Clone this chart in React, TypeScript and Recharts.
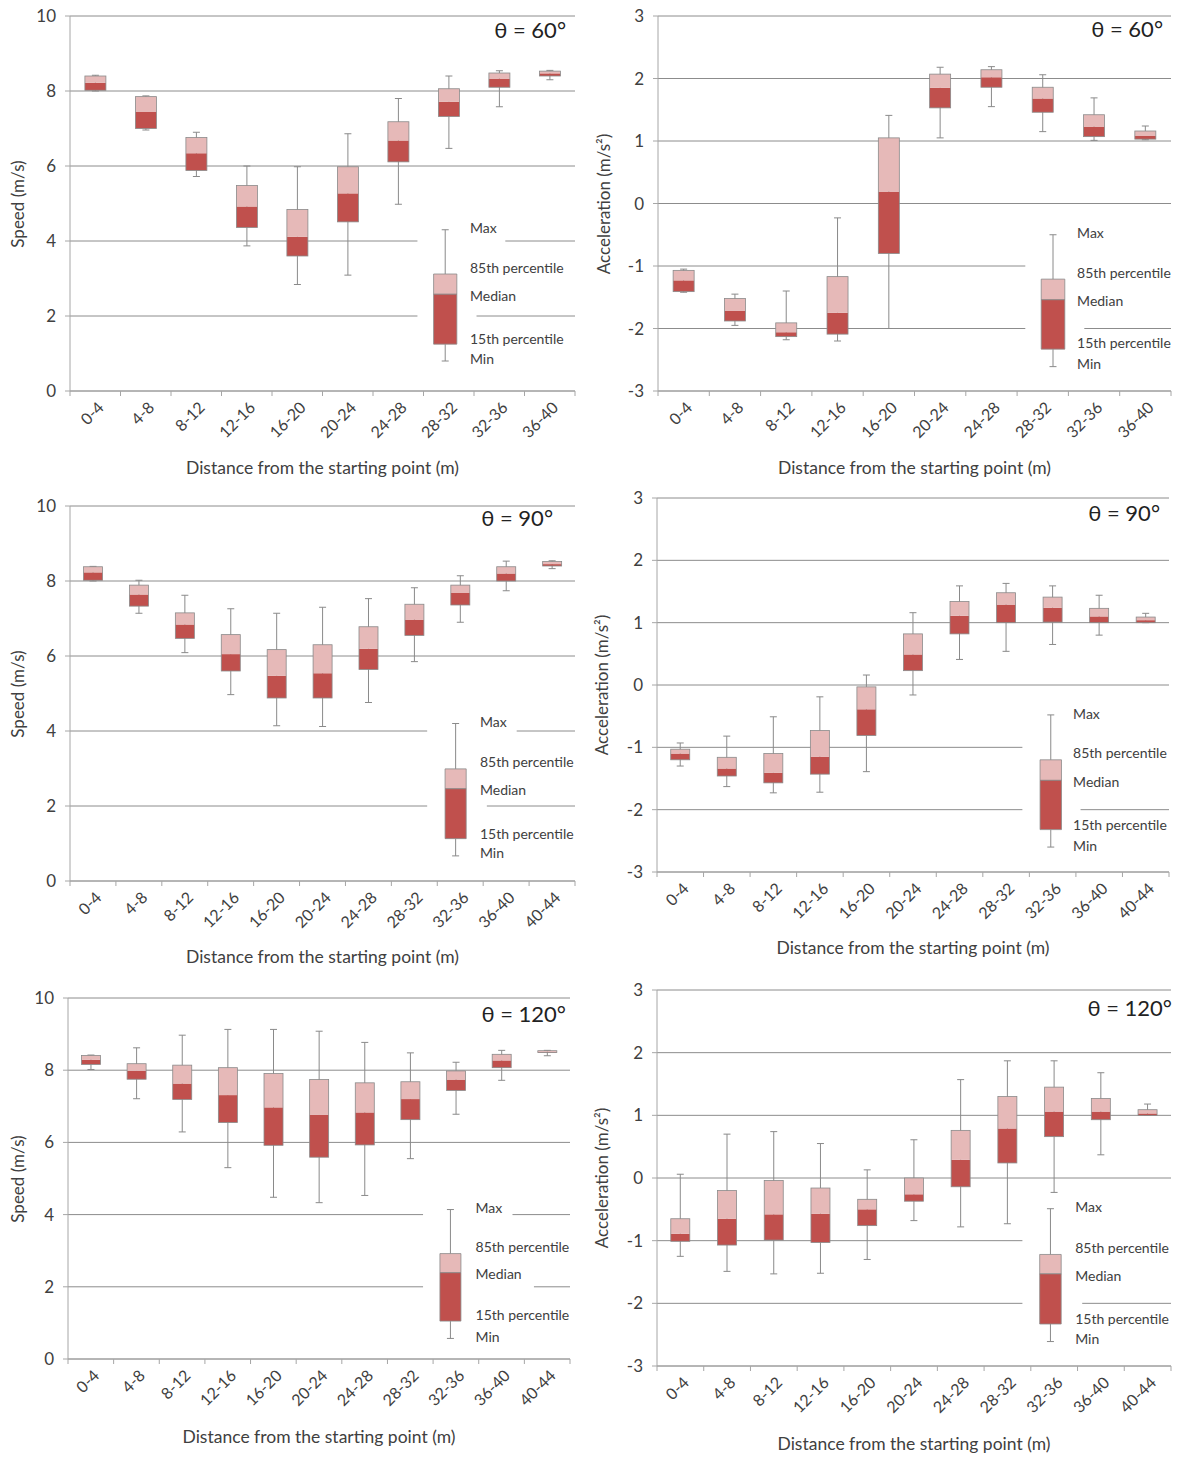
import {
  ComposedChart,
  Bar,
  XAxis,
  YAxis,
  CartesianGrid,
  ReferenceLine,
  ReferenceArea,
  ReferenceDot,
} from "recharts";

// distance bins (m)
const binsTo40 = ["0-4", "4-8", "8-12", "12-16", "16-20", "20-24", "24-28", "28-32", "32-36", "36-40"];
const binsTo44 = [...binsTo40, "40-44"];

// speed, θ = 60°
const speed60Max = [8.42, 7.87, 6.9, 6.0, 5.98, 6.86, 7.8, 8.4, 8.54, 8.55];
const speed60P85 = [8.4, 7.85, 6.76, 5.48, 4.84, 5.98, 7.18, 8.06, 8.48, 8.53];
const speed60Median = [8.22, 7.44, 6.34, 4.92, 4.11, 5.27, 6.68, 7.71, 8.33, 8.47];
const speed60P15 = [8.02, 7.0, 5.88, 4.36, 3.6, 4.51, 6.11, 7.32, 8.1, 8.4];
const speed60Min = [8.0, 6.96, 5.72, 3.87, 2.84, 3.09, 4.98, 6.47, 7.58, 8.3];

// acceleration, θ = 60°
const accel60Max = [-1.05, -1.45, -1.4, -0.23, 1.41, 2.18, 2.19, 2.06, 1.69, 1.24];
const accel60P85 = [-1.07, -1.52, -1.91, -1.17, 1.05, 2.07, 2.14, 1.86, 1.42, 1.16];
const accel60Median = [-1.23, -1.72, -2.06, -1.75, 0.19, 1.85, 2.02, 1.68, 1.23, 1.08];
const accel60P15 = [-1.41, -1.88, -2.13, -2.09, -0.8, 1.53, 1.86, 1.46, 1.07, 1.03];
const accel60Min = [-1.42, -1.95, -2.18, -2.2, -2.0, 1.05, 1.55, 1.15, 1.01, 1.02];

// speed, θ = 90°
const speed90Max = [8.39, 8.02, 7.62, 7.26, 7.14, 7.3, 7.53, 7.82, 8.14, 8.53, 8.54];
const speed90P85 = [8.38, 7.89, 7.15, 6.57, 6.17, 6.3, 6.78, 7.38, 7.89, 8.38, 8.52];
const speed90Median = [8.23, 7.64, 6.84, 6.05, 5.47, 5.54, 6.19, 6.97, 7.68, 8.2, 8.45];
const speed90P15 = [8.02, 7.33, 6.47, 5.6, 4.88, 4.88, 5.64, 6.55, 7.36, 8.0, 8.4];
const speed90Min = [8.0, 7.14, 6.09, 4.97, 4.14, 4.12, 4.76, 5.85, 6.9, 7.74, 8.33];

// acceleration, θ = 90°
const accel90Max = [-0.93, -0.82, -0.51, -0.19, 0.16, 1.16, 1.59, 1.63, 1.59, 1.44, 1.15];
const accel90P85 = [-1.03, -1.16, -1.1, -0.73, -0.03, 0.82, 1.34, 1.48, 1.41, 1.23, 1.09];
const accel90Median = [-1.1, -1.34, -1.41, -1.15, -0.39, 0.49, 1.11, 1.29, 1.24, 1.1, 1.04];
const accel90P15 = [-1.2, -1.46, -1.57, -1.43, -0.81, 0.23, 0.82, 1.0, 1.01, 1.0, 1.0];
const accel90Min = [-1.3, -1.63, -1.73, -1.72, -1.39, -0.16, 0.41, 0.54, 0.65, 0.8, 1.0];

// speed, θ = 120°
const speed120Max = [8.42, 8.62, 8.97, 9.13, 9.13, 9.08, 8.77, 8.48, 8.22, 8.55, 8.55];
const speed120P85 = [8.41, 8.18, 8.14, 8.07, 7.91, 7.74, 7.65, 7.68, 7.98, 8.44, 8.54];
const speed120Median = [8.29, 7.98, 7.63, 7.31, 6.97, 6.76, 6.83, 7.2, 7.74, 8.27, 8.51];
const speed120P15 = [8.16, 7.75, 7.19, 6.55, 5.92, 5.59, 5.93, 6.63, 7.44, 8.07, 8.49];
const speed120Min = [8.02, 7.21, 6.29, 5.3, 4.48, 4.33, 4.53, 5.55, 6.78, 7.72, 8.4];

// acceleration, θ = 120°
const accel120Max = [0.06, 0.7, 0.74, 0.55, 0.13, 0.61, 1.57, 1.87, 1.87, 1.68, 1.18];
const accel120P85 = [-0.65, -0.2, -0.04, -0.16, -0.34, 0.0, 0.76, 1.3, 1.45, 1.27, 1.09];
const accel120Median = [-0.89, -0.65, -0.58, -0.57, -0.5, -0.26, 0.29, 0.79, 1.06, 1.06, 1.03];
const accel120P15 = [-1.01, -1.07, -0.99, -1.03, -0.76, -0.37, -0.14, 0.24, 0.66, 0.93, 1.0];
const accel120Min = [-1.25, -1.49, -1.53, -1.52, -1.3, -0.68, -0.78, -0.73, -0.23, 0.37, 1.0];

// sample box of the key: max, 85th, median, 15th, min
const keySpeed60 = [4.3, 3.12, 2.58, 1.25, 0.8];
const keyAccel60 = [-0.5, -1.21, -1.54, -2.33, -2.61];
const keySpeed90 = [4.2, 2.99, 2.46, 1.13, 0.67];
const keyAccel90 = [-0.48, -1.2, -1.53, -2.32, -2.6];
const keySpeed120 = [4.14, 2.92, 2.39, 1.05, 0.57];
const keyAccel120 = [-0.49, -1.22, -1.53, -2.33, -2.61];

const keyLabels = ["Max", "85th percentile", "Median", "15th percentile", "Min"];

const speedTicks = [0, 2, 4, 6, 8, 10];
const accelTicks = [-3, -2, -1, 0, 1, 2, 3];

const GRID = "#8c8c8c";
const AXIS = "#a6a6a6";
const TEXT = "#404040";
const DARK = "#c0504d";
const LIGHT = "#e6b9b8";
const EDGE = "#8a8a8a";

const panels = [
  {
    title: "θ = 60°", yLabel: "Speed (m/s)", bins: binsTo40, ticks: speedTicks,
    max: speed60Max, p85: speed60P85, median: speed60Median, p15: speed60P15, min: speed60Min, key: keySpeed60,
    left: 70, right: 575, top: 16, bottom: 391, xTitleY: 468, yTitleX: 18, titleRight: 566, titleY: 30,
    keyX: 7.43, keyTextX: 7.92, keyTextY: [4.34, 3.29, 2.54, 1.39, 0.85],
    gaps: { 4: [[0, 6.88], [8.62, 10]], 2: [[0, 6.88], [8.05, 10]] } as Record<number, number[][]>,
  },
  {
    title: "θ = 60°", yLabel: "Acceleration (m/s²)", bins: binsTo40, ticks: accelTicks,
    max: accel60Max, p85: accel60P85, median: accel60Median, p15: accel60P15, min: accel60Min, key: keyAccel60,
    left: 658, right: 1171, top: 16, bottom: 391, xTitleY: 468, yTitleX: 604, titleRight: 1163, titleY: 29,
    keyX: 7.7, keyTextX: 8.17, keyTextY: [-0.47, -1.11, -1.56, -2.24, -2.57],
    gaps: { [-1]: [[0, 7.16]], [-2]: [[0, 7.16], [8.31, 10]] } as Record<number, number[][]>,
  },
  {
    title: "θ = 90°", yLabel: "Speed (m/s)", bins: binsTo44, ticks: speedTicks,
    max: speed90Max, p85: speed90P85, median: speed90Median, p15: speed90P15, min: speed90Min, key: keySpeed90,
    left: 70, right: 575, top: 506, bottom: 881, xTitleY: 957, yTitleX: 18, titleRight: 553, titleY: 518,
    keyX: 8.4, keyTextX: 8.93, keyTextY: [4.23, 3.17, 2.42, 1.26, 0.75],
    gaps: { 4: [[0, 7.78], [9.73, 11]], 2: [[0, 7.78], [9.08, 11]] } as Record<number, number[][]>,
  },
  {
    title: "θ = 90°", yLabel: "Acceleration (m/s²)", bins: binsTo44, ticks: accelTicks,
    max: accel90Max, p85: accel90P85, median: accel90Median, p15: accel90P15, min: accel90Min, key: keyAccel90,
    left: 657, right: 1169, top: 498, bottom: 872, xTitleY: 948, yTitleX: 602, titleRight: 1160, titleY: 513,
    keyX: 8.46, keyTextX: 8.94, keyTextY: [-0.47, -1.09, -1.55, -2.25, -2.58],
    gaps: { [-1]: [[0, 7.85]], [-2]: [[0, 7.85], [9.1, 11]] } as Record<number, number[][]>,
  },
  {
    title: "θ = 120°", yLabel: "Speed (m/s)", bins: binsTo44, ticks: speedTicks,
    max: speed120Max, p85: speed120P85, median: speed120Median, p15: speed120P15, min: speed120Min, key: keySpeed120,
    left: 68, right: 570, top: 998, bottom: 1359, xTitleY: 1437, yTitleX: 18, titleRight: 566, titleY: 1014,
    keyX: 8.38, keyTextX: 8.93, keyTextY: [4.17, 3.11, 2.34, 1.22, 0.62],
    gaps: { 4: [[0, 7.78], [9.74, 11]], 2: [[0, 7.78], [10.21, 11]] } as Record<number, number[][]>,
  },
  {
    title: "θ = 120°", yLabel: "Acceleration (m/s²)", bins: binsTo44, ticks: accelTicks,
    max: accel120Max, p85: accel120P85, median: accel120Median, p15: accel120P15, min: accel120Min, key: keyAccel120,
    left: 657, right: 1171, top: 990, bottom: 1366, xTitleY: 1444, yTitleX: 602, titleRight: 1172, titleY: 1008,
    keyX: 8.42, keyTextX: 8.95, keyTextY: [-0.47, -1.11, -1.56, -2.25, -2.57],
    gaps: { [-1]: [[0, 7.82]], [-2]: [[0, 7.82], [9.1, 11]] } as Record<number, number[][]>,
  },
];

type PanelCfg = (typeof panels)[number];

const Y_AXIS_W = 70;
const MARGIN_TOP = 10;
const MARGIN_RIGHT = 12;
const X_AXIS_H = 80;

// one box: whisker min..max, dark 15th..median, light median..85th
function BoxShape(props: any) {
  const { x, y, width, height, payload } = props;
  if (x == null || y == null || !payload) return null;
  const top = Math.min(y, y + height);
  const bot = Math.max(y, y + height);
  const { max, min, p85, median, p15 } = payload;
  const py = (v: number) => (max === min ? top : top + ((max - v) / (max - min)) * (bot - top));
  const cx = x + width / 2;
  const cap = 3.5;
  return (
    <g>
      <line x1={cx} y1={py(max)} x2={cx} y2={py(min)} stroke={EDGE} strokeWidth={1} />
      <line x1={cx - cap} y1={py(max)} x2={cx + cap} y2={py(max)} stroke={EDGE} strokeWidth={1} />
      <line x1={cx - cap} y1={py(min)} x2={cx + cap} y2={py(min)} stroke={EDGE} strokeWidth={1} />
      <rect x={x} y={py(median)} width={width} height={py(p15) - py(median)} fill={DARK} />
      <rect x={x} y={py(p85)} width={width} height={py(median) - py(p85)} fill={LIGHT} />
      <rect x={x} y={py(p85)} width={width} height={py(p15) - py(p85)} fill="none" stroke={EDGE} strokeWidth={0.8} />
    </g>
  );
}

function Panel({ cfg }: { cfg: PanelCfg }) {
  const n = cfg.bins.length;
  const data = cfg.bins.map((bin, i) => ({
    bin,
    pos: i + 0.5,
    max: cfg.max[i],
    p85: cfg.p85[i],
    median: cfg.median[i],
    p15: cfg.p15[i],
    min: cfg.min[i],
  }));
  const domain = [cfg.ticks[0], cfg.ticks[cfg.ticks.length - 1]];
  const span = domain[1] - domain[0];
  const plotW = cfg.right - cfg.left;
  const plotH = cfg.bottom - cfg.top;
  const band = plotW / n;
  const width = plotW + Y_AXIS_W + MARGIN_RIGHT;
  const height = plotH + MARGIN_TOP + X_AXIS_H;

  // horizontal grid with breaks behind the key text
  const gridLine = (p: any) => {
    const gy = p.y ?? MARGIN_TOP;
    const gh = p.height ?? plotH;
    const value = Math.round(domain[1] - ((p.y1 - gy) / gh) * span);
    const segs = cfg.gaps[value] ?? [[0, n]];
    return (
      <g key={p.key ?? `g-${p.index}`}>
        {segs.map(([a, b], i) => (
          <line
            key={i}
            x1={p.x1 + (a / n) * (p.x2 - p.x1)}
            x2={p.x1 + (b / n) * (p.x2 - p.x1)}
            y1={p.y1}
            y2={p.y2}
            stroke={GRID}
            strokeWidth={1}
          />
        ))}
      </g>
    );
  };

  const binTick = (props: any) => {
    const { x, y, payload } = props;
    const idx = props.index ?? payload.index;
    const half = band / 2;
    const tx = x + 5;
    const ty = y + 13;
    return (
      <g>
        <line x1={x - half} y1={y} x2={x - half} y2={y + 5} stroke={AXIS} />
        {idx === n - 1 && <line x1={x + half} y1={y} x2={x + half} y2={y + 5} stroke={AXIS} />}
        <text
          x={tx}
          y={ty}
          transform={`rotate(-45 ${tx} ${ty})`}
          textAnchor="end"
          dominantBaseline="central"
          fontSize={16}
          fill={TEXT}
        >
          {payload.value}
        </text>
      </g>
    );
  };

  const [kMax, k85, kMed, k15, kMin] = cfg.key;
  const kx = cfg.keyX;
  const kw = 0.23;
  const kc = 3.5 / band;

  return (
    <div style={{ position: "absolute", left: cfg.left - Y_AXIS_W, top: cfg.top - MARGIN_TOP }}>
      <ComposedChart
        width={width}
        height={height}
        data={data}
        margin={{ top: MARGIN_TOP, right: MARGIN_RIGHT, bottom: 0, left: 0 }}
        barCategoryGap="29.5%"
      >
        <CartesianGrid vertical={false} horizontal={gridLine} />
        <XAxis
          dataKey="bin"
          interval={0}
          height={X_AXIS_H}
          tickSize={0}
          tickMargin={0}
          tickLine={false}
          axisLine={{ stroke: AXIS }}
          tick={binTick}
        />
        <XAxis xAxisId="num" dataKey="pos" type="number" domain={[0, n]} hide allowDataOverflow />
        <YAxis
          width={Y_AXIS_W}
          domain={domain}
          ticks={cfg.ticks}
          interval={0}
          allowDataOverflow
          tickSize={5}
          tickMargin={9}
          tickLine={{ stroke: AXIS }}
          axisLine={{ stroke: AXIS }}
          tick={{ fill: TEXT, fontSize: 17 }}
        />
        <Bar dataKey={(d: any) => [d.min, d.max]} shape={BoxShape} isAnimationActive={false} />

        {/* key: sample box */}
        <ReferenceLine xAxisId="num" segment={[{ x: kx, y: kMax }, { x: kx, y: k85 }]} stroke={EDGE} />
        <ReferenceLine xAxisId="num" segment={[{ x: kx, y: k15 }, { x: kx, y: kMin }]} stroke={EDGE} />
        <ReferenceLine xAxisId="num" segment={[{ x: kx - kc, y: kMax }, { x: kx + kc, y: kMax }]} stroke={EDGE} />
        <ReferenceLine xAxisId="num" segment={[{ x: kx - kc, y: kMin }, { x: kx + kc, y: kMin }]} stroke={EDGE} />
        <ReferenceArea xAxisId="num" x1={kx - kw} x2={kx + kw} y1={kMed} y2={k85} fill={LIGHT} fillOpacity={1} stroke={EDGE} strokeWidth={0.8} />
        <ReferenceArea xAxisId="num" x1={kx - kw} x2={kx + kw} y1={k15} y2={kMed} fill={DARK} fillOpacity={1} stroke={EDGE} strokeWidth={0.8} />
        {keyLabels.map((label, i) => (
          <ReferenceDot
            key={label}
            xAxisId="num"
            x={cfg.keyTextX}
            y={cfg.keyTextY[i]}
            r={0}
            fill="none"
            stroke="none"
            label={{ value: label, position: "right", offset: 0, fill: TEXT, fontSize: 14 }}
          />
        ))}
      </ComposedChart>
    </div>
  );
}

export default function App() {
  return (
    <div
      style={{
        position: "absolute",
        left: 0,
        top: 0,
        width: 1181,
        height: 1457,
        background: "#fff",
        fontFamily: "Lato, 'Open Sans', sans-serif",
        color: TEXT,
      }}
    >
      {panels.map((cfg, i) => (
        <div key={i}>
          <Panel cfg={cfg} />
          <div
            style={{
              position: "absolute",
              left: cfg.titleRight - 200,
              width: 200,
              top: cfg.titleY - 14,
              lineHeight: "28px",
              fontSize: 22,
              textAlign: "right",
              color: "#222",
            }}
          >
            {cfg.title}
          </div>
          <div
            style={{
              position: "absolute",
              left: (cfg.left + cfg.right) / 2 - 200,
              width: 400,
              top: cfg.xTitleY - 11,
              lineHeight: "22px",
              fontSize: 17.5,
              textAlign: "center",
            }}
          >
            Distance from the starting point (m)
          </div>
          <div
            style={{
              position: "absolute",
              left: cfg.yTitleX - 150,
              width: 300,
              top: (cfg.top + cfg.bottom) / 2 - 11,
              height: 22,
              lineHeight: "22px",
              fontSize: 17,
              textAlign: "center",
              transform: "rotate(-90deg)",
            }}
          >
            {cfg.yLabel}
          </div>
        </div>
      ))}
    </div>
  );
}
